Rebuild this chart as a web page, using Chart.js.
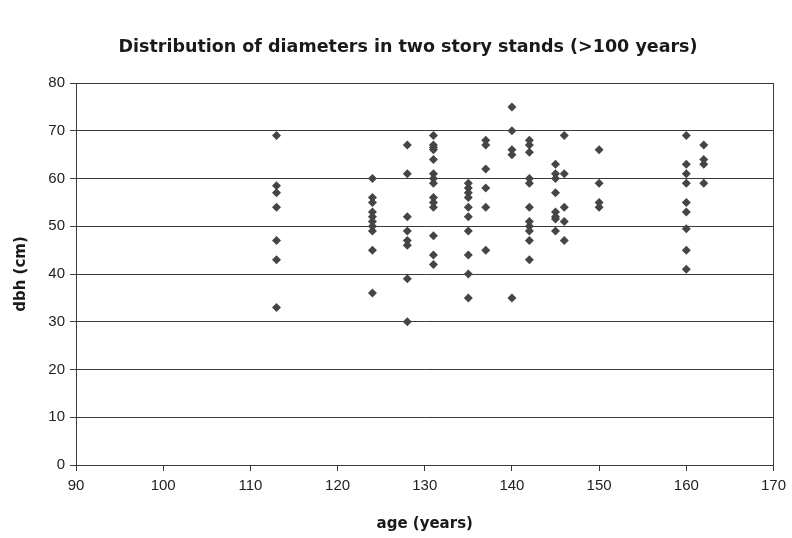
<!DOCTYPE html>
<html>
<head>
<meta charset="utf-8">
<script src="https://cdn.jsdelivr.net/npm/chart.js@4/dist/chart.umd.min.js"></script>
<style>
  html, body { margin: 0; padding: 0; background: #fff; }
  #wrap { width: 792px; height: 538px; }
</style>
</head>
<body>
<div id="wrap"><canvas id="chart"></canvas></div>
<script>
// ages (years) and diameters (cm)
const ages = [
  113, 113, 113, 113, 113, 113, 113,
  124, 124, 124, 124, 124, 124, 124, 124, 124, 124,
  128, 128, 128, 128, 128, 128, 128, 128,
  131, 131, 131, 131, 131, 131, 131, 131, 131, 131, 131, 131, 131, 131,
  135, 135, 135, 135, 135, 135, 135, 135, 135, 135,
  137, 137, 137, 137, 137, 137,
  140, 140, 140, 140, 140,
  142, 142, 142, 142, 142, 142, 142, 142, 142, 142, 142,
  145, 145, 145, 145, 145, 145, 145, 145,
  146, 146, 146, 146, 146,
  150, 150, 150, 150,
  160, 160, 160, 160, 160, 160, 160, 160, 160,
  162, 162, 162, 162,
];
const dbh = [
  69, 58.5, 57, 54, 47, 43, 33,
  60, 56, 55, 53, 52, 51, 50, 49, 45, 36,
  67, 61, 52, 49, 47, 46, 39, 30,
  69, 67, 66.5, 66, 64, 61, 60, 59, 56, 55, 54, 48, 44, 42,
  59, 58, 57, 56, 54, 52, 49, 44, 40, 35,
  68, 67, 62, 58, 54, 45,
  75, 70, 66, 65, 35,
  68, 67, 65.5, 60, 59, 54, 51, 50, 49, 47, 43,
  63, 61, 60, 57, 53, 52, 51.5, 49,
  69, 61, 54, 51, 47,
  66, 59, 55, 54,
  69, 63, 61, 59, 55, 53, 49.5, 45, 41,
  67, 64, 63, 59,
];
const xTicks = [90, 100, 110, 120, 130, 140, 150, 160, 170];
const yTicks = [0, 10, 20, 30, 40, 50, 60, 70, 80];
const chartTitle = "Distribution of diameters in two story stands (>100 years)";

const points = ages.map((a, i) => ({ x: a, y: dbh[i] }));

const boldFont = "DejaVu Sans, Verdana, sans-serif";
const tickFont = "Liberation Sans, Arial, sans-serif";

// thin frame round the plot area, plus the title set a bit right of centre
const plotFrame = {
  id: "plotFrame",
  afterDraw(chart) {
    const { ctx, chartArea: a } = chart;
    ctx.save();
    ctx.strokeStyle = "#3a3a3a";
    ctx.lineWidth = 1;
    ctx.strokeRect(Math.round(a.left) + 0.5, Math.round(a.top) + 0.5,
      Math.round(a.right - a.left), Math.round(a.bottom - a.top));
    ctx.fillStyle = "#1a1a1a";
    ctx.font = "bold 17.5px " + boldFont;
    ctx.textAlign = "center";
    ctx.textBaseline = "middle";
    ctx.fillText(chartTitle, 408, 47);
    ctx.restore();
  },
};

new Chart(document.getElementById("chart"), {
  type: "scatter",
  data: {
    datasets: [{
      label: "dbh",
      data: points,
      pointStyle: "rectRot",
      pointRadius: 4.5,
      pointHoverRadius: 4.5,
      backgroundColor: "#454545",
      borderColor: "#454545",
      borderWidth: 0,
    }],
  },
  options: {
    responsive: true,
    maintainAspectRatio: false,
    animation: false,
    layout: { padding: { left: 0, right: 16, top: 83, bottom: 0 } },
    plugins: {
      legend: { display: false },
      tooltip: { enabled: false },
      title: { display: false },
    },
    scales: {
      x: {
        type: "linear",
        min: 90,
        max: 170,
        afterBuildTicks(scale) { scale.ticks = xTicks.map(v => ({ value: v })); },
        afterFit(scale) { scale.height = 73; },
        grid: { drawOnChartArea: false, drawTicks: true, tickLength: 6, color: "#3a3a3a" },
        border: { color: "#3a3a3a" },
        ticks: {
          color: "#222",
          padding: 6,
          maxRotation: 0,
          font: { family: tickFont, size: 15 },
        },
        title: {
          display: true,
          text: "age (years)",
          color: "#1a1a1a",
          padding: { top: 0, bottom: 5 },
          font: { family: boldFont, size: 15, weight: "bold" },
        },
      },
      y: {
        type: "linear",
        min: 0,
        max: 80,
        afterBuildTicks(scale) { scale.ticks = yTicks.map(v => ({ value: v })); },
        afterFit(scale) { scale.width = 76; },
        grid: { drawOnChartArea: true, drawTicks: true, tickLength: 6, color: "#3a3a3a" },
        border: { color: "#3a3a3a" },
        ticks: {
          color: "#222",
          padding: 5,
          font: { family: tickFont, size: 15 },
        },
        title: {
          display: true,
          text: "dbh (cm)",
          color: "#1a1a1a",
          padding: { top: 12, bottom: 0 },
          font: { family: boldFont, size: 15, weight: "bold" },
        },
      },
    },
  },
  plugins: [plotFrame],
});
</script>
</body>
</html>
